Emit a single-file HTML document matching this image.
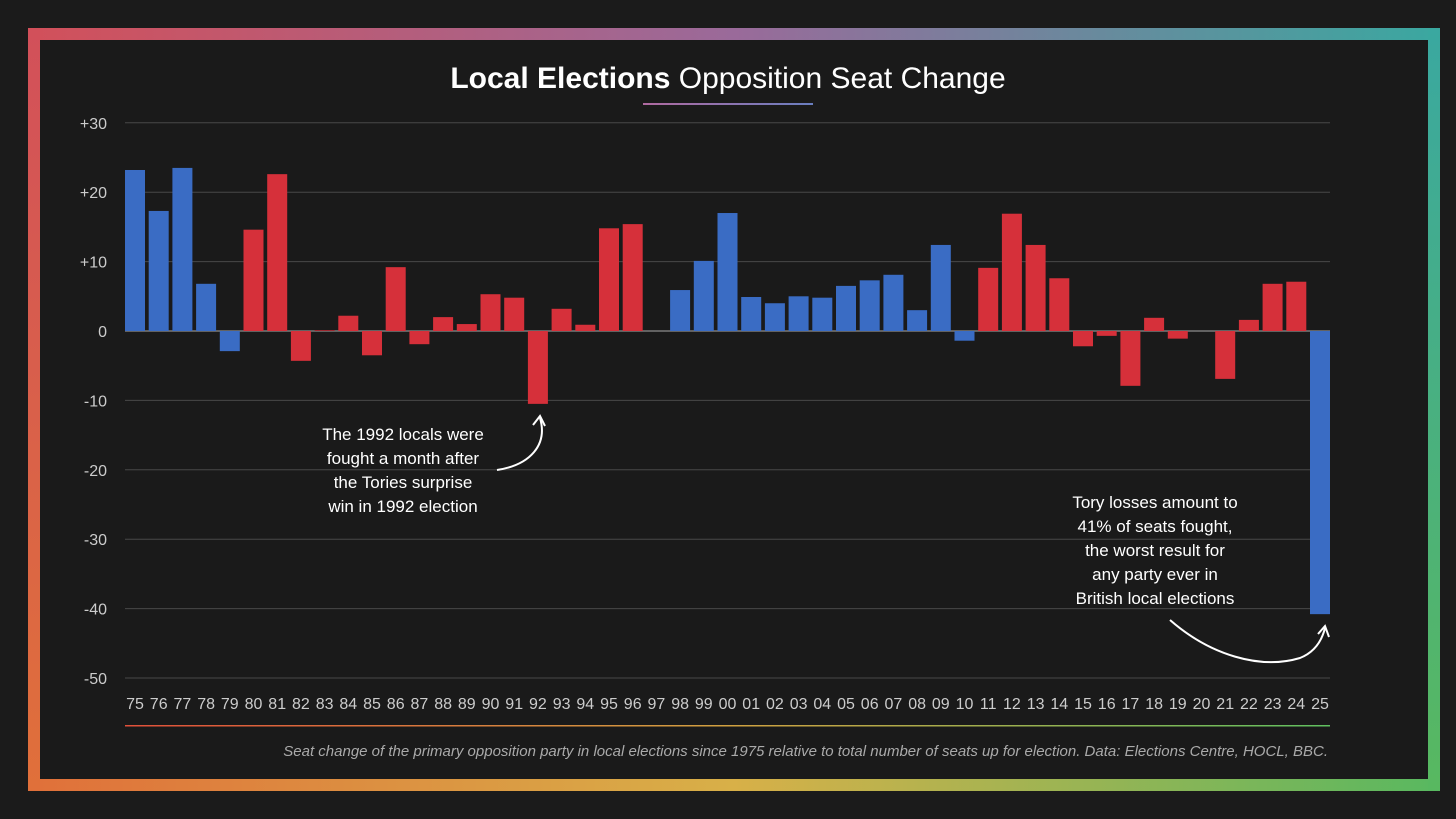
<!DOCTYPE html>
<html><head><meta charset="utf-8">
<style>
html,body{margin:0;padding:0;background:#1b1b1b;}
#wrap{position:relative;width:1456px;height:819px;overflow:hidden;background:#1b1b1b;font-family:"Liberation Sans",sans-serif;}
</style></head>
<body>
<div id="wrap">
<svg id="svg" width="1456" height="819" xmlns="http://www.w3.org/2000/svg">
<defs>
<linearGradient id="gt" gradientUnits="userSpaceOnUse" x1="28" y1="0" x2="1440" y2="0"><stop offset="0" stop-color="#d2505a"/><stop offset="0.5" stop-color="#9a6a9a"/><stop offset="1" stop-color="#3aa8a0"/></linearGradient>
<linearGradient id="gb" gradientUnits="userSpaceOnUse" x1="28" y1="0" x2="1440" y2="0"><stop offset="0" stop-color="#e0703a"/><stop offset="0.5" stop-color="#d8b048"/><stop offset="1" stop-color="#58b860"/></linearGradient>
<linearGradient id="gl" gradientUnits="userSpaceOnUse" x1="0" y1="28" x2="0" y2="791"><stop offset="0" stop-color="#d2505a"/><stop offset="1" stop-color="#e0703a"/></linearGradient>
<linearGradient id="gr" gradientUnits="userSpaceOnUse" x1="0" y1="28" x2="0" y2="791"><stop offset="0" stop-color="#3aa8a0"/><stop offset="1" stop-color="#58b860"/></linearGradient>
<linearGradient id="ul" gradientUnits="userSpaceOnUse" x1="643" y1="0" x2="813" y2="0"><stop offset="0" stop-color="#b06aa0"/><stop offset="1" stop-color="#6a7ec0"/></linearGradient>
<linearGradient id="fl" gradientUnits="userSpaceOnUse" x1="125" y1="0" x2="1330" y2="0"><stop offset="0" stop-color="#e0503a"/><stop offset="0.5" stop-color="#d0a040"/><stop offset="1" stop-color="#60c060"/></linearGradient>
</defs>
<g>
<rect x="28" y="28" width="1412" height="12" fill="url(#gt)"/>
<rect x="28" y="779" width="1412" height="12" fill="url(#gb)"/>
<rect x="28" y="28" width="12" height="763" fill="url(#gl)"/>
<rect x="1428" y="28" width="12" height="763" fill="url(#gr)"/>
</g>
<rect x="40" y="40" width="1388" height="739" fill="#1a1a1a"/>
<text x="728" y="88" text-anchor="middle" font-size="30" fill="#fff"><tspan font-weight="bold">Local Elections</tspan> Opposition Seat Change</text>
<rect x="643" y="103" width="170" height="2" fill="url(#ul)"/>
<g id="grid"></g><g id="bars"></g><g id="xl"></g>
<rect x="125" y="725" width="1205" height="1.5" fill="url(#fl)"/>
<text x="1328" y="756" text-anchor="end" font-size="15" font-style="italic" fill="#aaa">Seat change of the primary opposition party in local elections since 1975 relative to total number of seats up for election. Data: Elections Centre, HOCL, BBC.</text>
<g font-size="17" fill="#fff" text-anchor="middle">
<text x="403" y="440">The 1992 locals were</text><text x="403" y="464">fought a month after</text><text x="403" y="488">the Tories surprise</text><text x="403" y="512">win in 1992 election</text></g>
<path d="M497 470 C530 465 548 445 540 418" stroke="#fff" stroke-width="2" fill="none"/>
<path d="M533 425 L540 416 L545 426" stroke="#fff" stroke-width="2" fill="none"/>
<g font-size="17" fill="#fff" text-anchor="middle">
<text x="1155" y="508">Tory losses amount to</text><text x="1155" y="532">41% of seats fought,</text><text x="1155" y="556">the worst result for</text><text x="1155" y="580">any party ever in</text><text x="1155" y="604">British local elections</text></g>
<path d="M1170 620 C1210 655 1260 670 1300 658 C1315 652 1322 640 1325 628" stroke="#fff" stroke-width="2" fill="none"/>
<path d="M1318 634 L1325 626 L1329 637" stroke="#fff" stroke-width="2" fill="none"/>
</svg>
</div>
<script>
const years=["75","76","77","78","79","80","81","82","83","84","85","86","87","88","89","90","91","92","93","94","95","96","97","98","99","00","01","02","03","04","05","06","07","08","09","10","11","12","13","14","15","16","17","18","19","20","21","22","23","24","25"];
const values=[23.2,17.3,23.5,6.8,-2.9,14.6,22.6,-4.3,0.1,2.2,-3.5,9.2,-1.9,2.0,1.0,5.3,4.8,-10.5,3.2,0.9,14.8,15.4,0,5.9,10.1,17.0,4.9,4.0,5.0,4.8,6.5,7.3,8.1,3.0,12.4,-1.4,9.1,16.9,12.4,7.6,-2.2,-0.7,-7.9,1.9,-1.1,0,-6.9,1.6,6.8,7.1,-40.8];
const party=["B","B","B","B","B","R","R","R","R","R","R","R","R","R","R","R","R","R","R","R","R","R","R","B","B","B","B","B","B","B","B","B","B","B","B","B","R","R","R","R","R","R","R","R","R","R","R","R","R","R","B"];
const ticks=[30,20,10,0,-10,-20,-30,-40,-50];
const tickLabels=["+30","+20","+10","0","-10","-20","-30","-40","-50"];
const NS="http://www.w3.org/2000/svg";
const y=v=>331-v*6.94;
const x=i=>135+i*23.7;
function mk(t,a,p){const e=document.createElementNS(NS,t);for(const k in a)e.setAttribute(k,a[k]);p.appendChild(e);return e;}
const g=document.getElementById('grid');
ticks.forEach((t,i)=>{
 const l=mk('line',{x1:125,x2:1330,y1:y(t),y2:y(t),stroke:t===0?'#aaa':'#484848','stroke-width':1},g);
 
 
 const tx=mk('text',{x:107,y:y(t)+6,'text-anchor':'end','font-size':16,fill:'#ccc'},g);
 tx.textContent=tickLabels[i];
 
 
});
const b=document.getElementById('bars'),xl=document.getElementById('xl');
values.forEach((v,i)=>{
 const r=mk('rect',{x:x(i)-10,width:20,y:Math.min(y(v),y(0)),height:Math.abs(y(v)-y(0)),fill:party[i]==='B'?'#3a6cc4':'#d6303a'},b);
 
 
 const t=mk('text',{x:x(i),y:709,'text-anchor':'middle','font-size':16,fill:'#ccc'},xl);
 t.textContent=years[i];
 
 
});
</script>
</body></html>
